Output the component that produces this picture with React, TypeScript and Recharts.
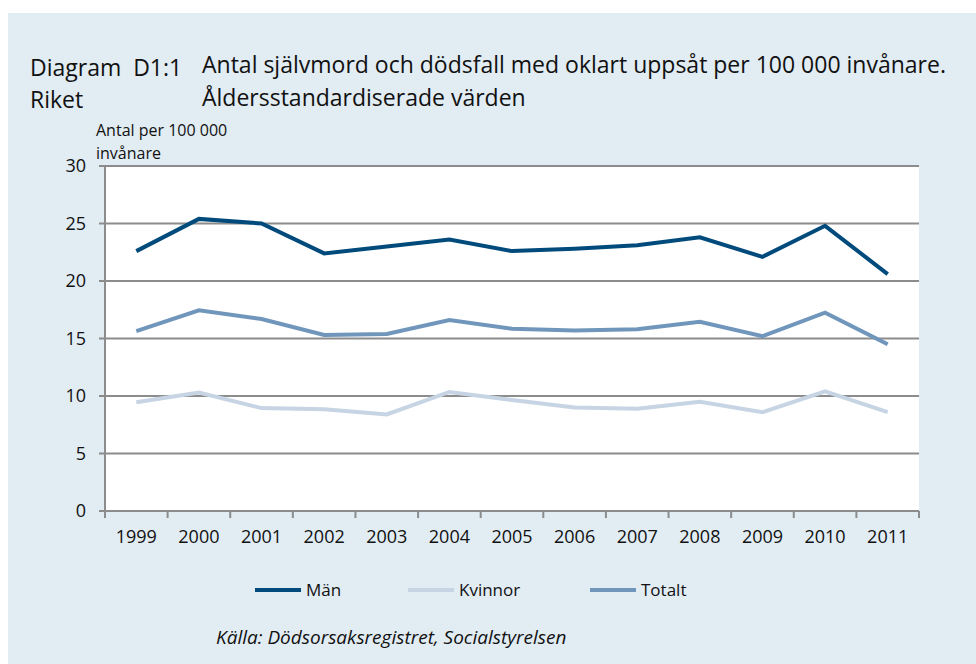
import { LineChart, Line, XAxis, YAxis, CartesianGrid } from "recharts";

const years = ["1999", "2000", "2001", "2002", "2003", "2004", "2005", "2006", "2007", "2008", "2009", "2010", "2011"];
const man = [22.6, 25.4, 25.0, 22.4, 23.0, 23.6, 22.6, 22.8, 23.1, 23.8, 22.1, 24.8, 20.6];
const kvinnor = [9.45, 10.3, 8.95, 8.85, 8.4, 10.35, 9.65, 9.0, 8.9, 9.5, 8.6, 10.4, 8.6];
const totalt = [15.65, 17.45, 16.7, 15.3, 15.4, 16.6, 15.85, 15.7, 15.8, 16.45, 15.2, 17.25, 14.5];
const yTicks = [0, 5, 10, 15, 20, 25, 30];

const data = years.map((year, i) => ({ year, man: man[i], kvinnor: kvinnor[i], totalt: totalt[i] }));

const FONT = "'Open Sans', sans-serif";
const GRID = "#8c8c8c";
const PLOT_W = 814;
const HALF = PLOT_W / years.length / 2;

const XTick = (props: any) => {
  const { x, y, payload, index } = props;
  return (
    <g>
      <line x1={x - HALF} x2={x - HALF} y1={y - 8} y2={y - 1} stroke={GRID} strokeWidth={2} />
      {index === years.length - 1 && (
        <line x1={x + HALF} x2={x + HALF} y1={y - 8} y2={y - 1} stroke={GRID} strokeWidth={2} />
      )}
      <text x={x} y={y + 24} textAnchor="middle" fontSize={18} fill="#111" fontFamily={FONT}>
        {payload.value}
      </text>
    </g>
  );
};

const legend = [
  { name: "Män", color: "#004a7c", x: 255 },
  { name: "Kvinnor", color: "#c6d4e3", x: 408 },
  { name: "Totalt", color: "#7096bb", x: 590 },
];

export default function App() {
  return (
    <div style={{ position: "absolute", left: 0, top: 0, width: 976, height: 664, background: "#fff", fontFamily: FONT, color: "#111" }}>
      <div style={{ position: "absolute", left: 8, top: 13, width: 968, height: 651, background: "#e1ecf3" }} />
      <div style={{ position: "absolute", left: 30, top: 51, fontSize: 23 }}>Diagram&nbsp;&nbsp;D1:1</div>
      <div style={{ position: "absolute", left: 30, top: 83, fontSize: 23 }}>Riket</div>
      <div style={{ position: "absolute", left: 202, top: 48, fontSize: 23, lineHeight: "33px" }}>
        Antal självmord och dödsfall med oklart uppsåt per 100 000 invånare.
        <br />
        Åldersstandardiserade värden
      </div>
      <div style={{ position: "absolute", left: 96, top: 119, fontSize: 16, lineHeight: "23px" }}>
        Antal per 100 000
        <br />
        invånare
      </div>
      <div style={{ position: "absolute", left: 0, top: 0 }}>
        <LineChart width={976} height={664} data={data} margin={{ top: 166, right: 57, left: 45, bottom: 113 }}>
          <CartesianGrid vertical={false} stroke={GRID} strokeWidth={2} fill="#ffffff" />
          <XAxis
            dataKey="year"
            axisLine={{ stroke: GRID, strokeWidth: 2 }}
            tickLine={false}
            tick={<XTick />}
            height={40}
            interval={0}
            padding={{ left: HALF, right: HALF }}
          />
          <YAxis
            domain={[0, 30]}
            ticks={yTicks}
            width={60}
            axisLine={{ stroke: GRID, strokeWidth: 2 }}
            tickLine={{ stroke: GRID, strokeWidth: 2 }}
            tickSize={6}
            tickMargin={13}
            tick={{ fontSize: 18, fill: "#111", fontFamily: FONT }}
          />
          <Line dataKey="kvinnor" stroke="#c6d4e3" strokeWidth={4} dot={false} isAnimationActive={false} />
          <Line dataKey="totalt" stroke="#7096bb" strokeWidth={4} dot={false} isAnimationActive={false} />
          <Line dataKey="man" stroke="#004a7c" strokeWidth={4} dot={false} isAnimationActive={false} />
        </LineChart>
      </div>
      {legend.map((l) => (
        <div key={l.name} style={{ position: "absolute", left: l.x, top: 578, display: "flex", alignItems: "center", fontSize: 17 }}>
          <span style={{ display: "inline-block", width: 46, height: 4, background: l.color, marginRight: 5 }} />
          {l.name}
        </div>
      ))}
      <div style={{ position: "absolute", left: 216, top: 624, fontSize: 19, fontStyle: "italic" }}>
        Källa: Dödsorsaksregistret, Socialstyrelsen
      </div>
    </div>
  );
}
